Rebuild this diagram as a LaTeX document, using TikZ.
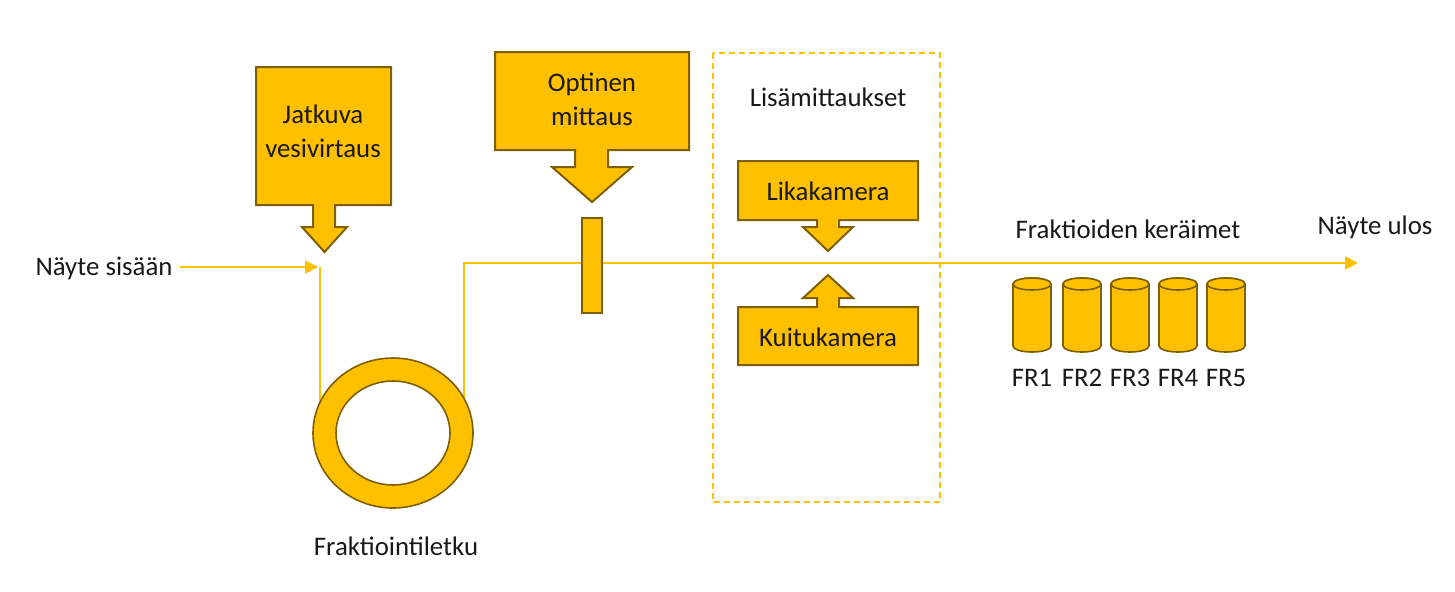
\documentclass[tikz,border=0pt]{standalone}
\usepackage{fontspec}
\setmainfont{Carlito}
\usetikzlibrary{arrows.meta}
\definecolor{kulta}{HTML}{FFC000}
\definecolor{ruskea}{HTML}{7F6000}
\tikzset{
  callout/.style={draw=ruskea, fill=kulta, line width=1pt, line join=miter},
  flow/.style={draw=kulta, line width=1.1pt},
  flowtip/.style={-{Triangle[length=6.5pt,width=6.5pt]}},
  label/.style={inner sep=0pt, align=center, text=black!90}
}
\begin{document}
\begin{tikzpicture}[x=0.5pt, y=-0.5pt, font=\fontsize{13.4}{17}\selectfont]
\useasboundingbox (0,0) rectangle (1455,591);
% flow lines
\coordinate (sisaan) at (318,267);
\coordinate (alas) at (320,267);
\coordinate (letkuin) at (320,402);
\coordinate (letkuout) at (464,398);
\coordinate (ylos) at (464,263);
\coordinate (ulos) at (1358,263);
\node[label] (inlet) at (104,268) {Näyte sisään};
\draw[flow, flowtip] (180,267) -- (sisaan);
\draw[flow] (alas) -- (letkuin);
\draw[flow, flowtip] (letkuout) -- (ylos) -- (ulos);
\node[label] (outlet) at (1375,227) {Näyte ulos};
% fraktiointiletku
\draw[callout, line width=0.8pt, even odd rule] (393,433) ellipse[x radius=80, y radius=75]
  (393,433) ellipse[x radius=57, y radius=52];
\node[label] (letku) at (396,546) {Fraktiointiletku};
% jatkuva vesivirtaus
\draw[callout] (256,67) -- (391,67) -- (391,205) -- (335,205) -- (335,227) -- (347,227)
  -- (324.5,252) -- (302,227) -- (313,227) -- (313,205) -- (256,205) -- cycle;
\node[label] (jatkuva) at (323,131) {Jatkuva\\vesivirtaus};
% optinen mittaus
\draw[callout] (495,52) -- (689,52) -- (689,150) -- (608,150) -- (608,167) -- (632,167)
  -- (592,202) -- (552,167) -- (575,167) -- (575,150) -- (495,150) -- cycle;
\node[label] (optinen) at (592,99) {Optinen\\mittaus};
\node[callout, minimum width=10pt, minimum height=47.5pt, inner sep=0pt] (kyvetti) at (592,265.5) {};
% lisamittaukset
\draw[kulta, line width=1pt, dash pattern=on 3pt off 2pt] (713,53) rectangle (940,502);
\node[label] (lisa) at (828,97) {Lisämittaukset};
\draw[callout] (738,161) -- (918,161) -- (918,220) -- (839,220) -- (839,227) -- (853,227)
  -- (828,251) -- (803,227) -- (817,227) -- (817,220) -- (738,220) -- cycle;
\node[label] (lika) at (828,191) {Likakamera};
\draw[callout] (738,365) -- (918,365) -- (918,307) -- (839,307) -- (839,298) -- (853,298)
  -- (828,275) -- (803,298) -- (817,298) -- (817,307) -- (738,307) -- cycle;
\node[label] (kuitu) at (828,337) {Kuitukamera};
% fraktioiden keraimet
\node[label] (keraimet) at (1128,229) {Fraktioiden keräimet};
\foreach \i/\x in {1/1032, 2/1082, 3/1130, 4/1178, 5/1226} {
  \draw[callout, line width=0.8pt] (\x-19,284) -- (\x-19,346)
    arc[start angle=180, end angle=0, x radius=19, y radius=6]
    -- (\x+19,284) arc[start angle=0, end angle=-180, x radius=19, y radius=6] -- cycle;
  \draw[callout, line width=0.8pt] (\x,284) ellipse[x radius=19, y radius=6];
  \node[label] (fr\i) at (\x,378) {FR\i};
}
\end{tikzpicture}
\end{document}
